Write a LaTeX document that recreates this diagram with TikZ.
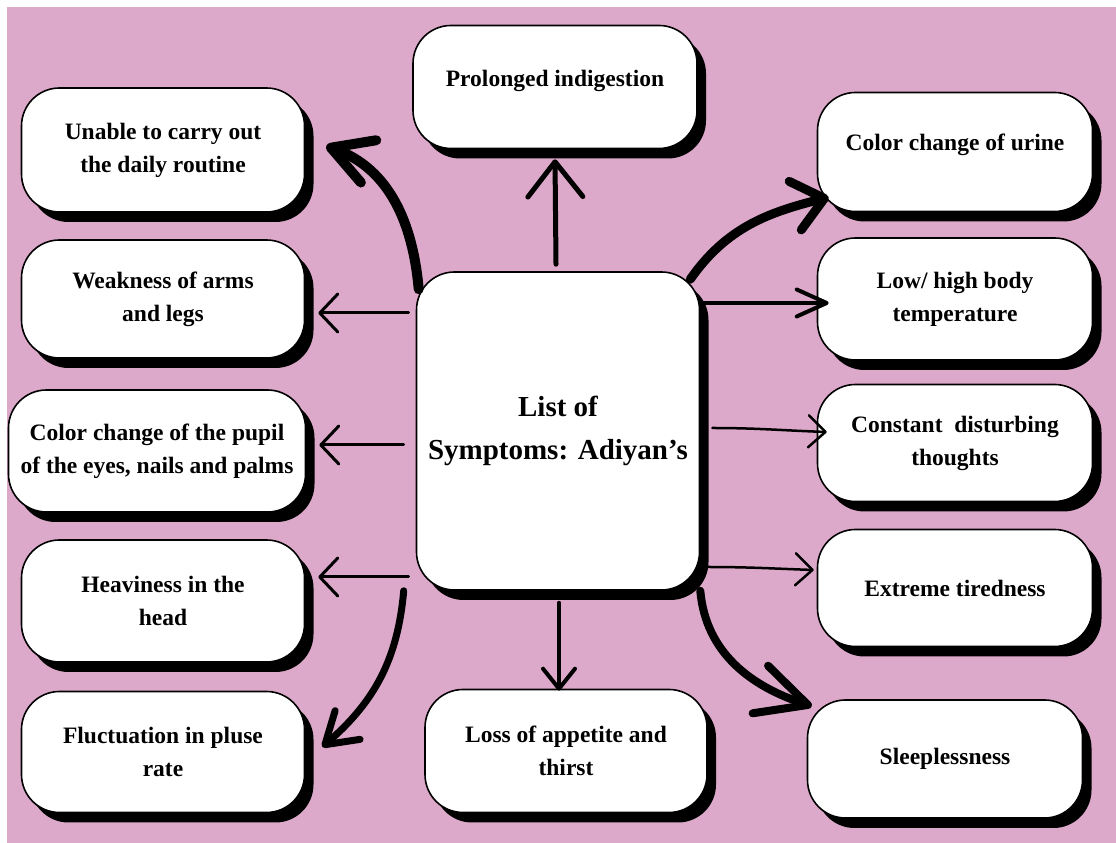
\documentclass[tikz,border=0pt]{standalone}
\usepackage{fontspec}
\setmainfont{Liberation Serif}
\usetikzlibrary{arrows.meta,shadows,calc}
\definecolor{pinkbg}{RGB}{221,169,202}

\begin{document}
\begin{tikzpicture}[x=1pt,y=1pt,
symptom/.style={draw=black,line width=1.6pt,fill=white,rounded corners=38pt,align=center,
  minimum width=283pt,minimum height=121pt,font=\bfseries\fontsize{23.5}{33}\selectfont,
  drop shadow={shadow xshift=9pt,shadow yshift=-10pt,fill=black,opacity=1}},
headed/.style 2 args={-{Straight Barb[length=#1,width=#2,round]}},
thinarrow/.style={line width=3pt,line cap=round},
thickarrow/.style={line width=9pt,line cap=round}]
\useasboundingbox (0,0) rectangle (1116,843);
\fill[white] (0,0) rectangle (1116,843);
\fill[pinkbg] (7,0) rectangle (1116,836);

\node[symptom,minimum height=318pt,font=\bfseries\fontsize{29}{43}\selectfont] (hub) at (558,412) {List of\\Symptoms: Adiyan’s};

\node[symptom,minimum width=284pt,minimum height=123pt,text depth=18pt] (prolong) at (555,756) {Prolonged indigestion};
\node[symptom,minimum width=282pt,minimum height=123pt] (loss) at (566,92) {Loss of appetite and\\thirst};

\node[symptom,minimum height=124pt] (unable) at (163,693) {Unable to carry out\\the daily routine};
\node[symptom,minimum height=118pt] (weak) at (163,544) {Weakness of arms\\and legs};
\node[symptom,minimum width=297pt,minimum height=122pt] (pupil) at (157,392) {Color change of the pupil\\of the eyes, nails and palms};
\node[symptom,minimum height=122pt] (heavy) at (163,242) {Heaviness in the\\head};
\node[symptom] (fluct) at (163,91) {Fluctuation in pluse\\rate};

\node[symptom,minimum width=275pt,minimum height=119pt,text depth=20pt] (urine) at (955,691) {Color change of urine};
\node[symptom,minimum width=275pt,minimum height=122pt] (lowhigh) at (955,544) {Low/ high body\\temperature};
\node[symptom,minimum width=275pt,minimum height=117pt] (constant) at (955,400) {Constant\ \ disturbing\\thoughts};
\node[symptom,minimum width=275pt,minimum height=117pt] (extreme) at (955,255) {Extreme tiredness};
\node[symptom,minimum width=275pt,minimum height=118pt] (sleep) at (945,84) {Sleeplessness};

\draw[thinarrow,line width=5pt,headed={35pt}{55pt}] ($(hub.north)+(-2,7)$) -- ($(prolong.south)+(0,-10)$);
\draw[thinarrow,line width=4pt,headed={20pt}{32pt}] ($(hub.south)+(1,-12)$) -- ($(loss.north)+(-7,-2)$);

\draw[thinarrow,headed={18pt}{38pt}] ($(hub.west)+(-7,118)$) -- ($(weak.east)+(13,-14)$);
\draw[thinarrow,headed={18pt}{38pt}] ($(hub.west)+(-12,-14)$) -- ($(pupil.east)+(13,6)$);
\draw[thinarrow,headed={18pt}{38pt}] ($(hub.west)+(-7,-146)$) -- ($(heavy.east)+(13,24)$);

\draw[thinarrow,line width=4pt,headed={30pt}{27pt}] ($(hub.east)+(3,128)$) -- ($(lowhigh.west)+(12,-4)$);
\draw[thinarrow,line width=2.5pt,headed={17pt}{32pt}] ($(hub.east)+(12,3)$) to[out=0,in=178] ($(constant.west)+(10,11)$);
\draw[thinarrow,line width=2.5pt,headed={17pt}{32pt}] ($(hub.east)+(7,-136)$) to[out=0,in=178] ($(extreme.west)+(-3,18)$);

\draw[thickarrow,line width=10pt,headed={40pt}{45pt}] ($(hub.north west)+(3,-18)$) to[out=95,in=-20] ($(unable.east)+(21,4)$);
\draw[thickarrow,headed={30pt}{50pt}] ($(hub.north east)+(-10,-8)$) to[out=55,in=194] ($(urine.south west)+(12,15)$);
\draw[thickarrow,line width=7pt,headed={30pt}{38pt}] ($(hub.south west)+(-12,0)$) to[out=-95,in=41] ($(fluct.east)+(17,5)$);
\draw[thickarrow,line width=8pt,headed={50pt}{50pt}] (hub.south east) to[out=-85,in=162] ($(sleep.north west)+(5,-7)$);
\end{tikzpicture}
\end{document}
